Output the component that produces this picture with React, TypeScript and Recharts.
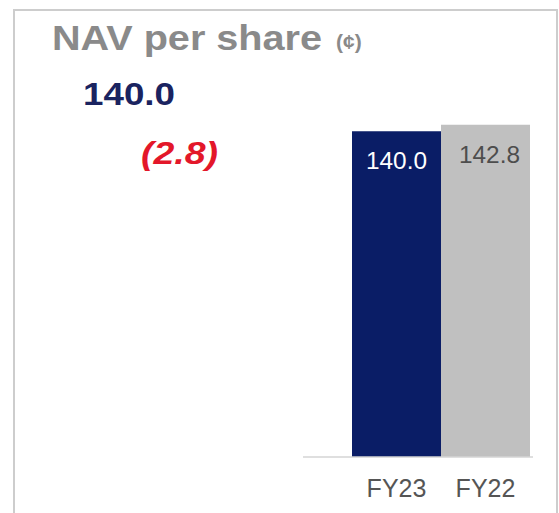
import React from 'react';
import { BarChart, Bar, XAxis, YAxis, Cell, LabelList } from 'recharts';

const years = ['FY23', 'FY22'];
const navValues = [140.0, 142.8];
const barColors = ['#0a1d66', '#c0c0c0'];
const labelColors = ['#ffffff', '#4d4d4d'];

const headline = '140.0';
const change = '(2.8)';

const data = years.map((year, i) => ({ year, nav: navValues[i] }));

const FONT = '"Liberation Sans", Arial, sans-serif';

const BarValue = (props: any) => {
  const { x, y, width, value, index } = props;
  return (
    <text
      x={x + width / 2 + (index === 1 ? 4 : 0)}
      y={y + 38}
      textAnchor="middle"
      fontSize={24}
      fontFamily={FONT}
      fill={labelColors[index]}
      textLength={61}
      lengthAdjust="spacingAndGlyphs"
    >
      {Number(value).toFixed(1)}
    </text>
  );
};

export default function App() {
  return (
    <div style={{ position: 'absolute', left: 0, top: 0, width: 559, height: 513, background: '#fff', overflow: 'hidden' }}>
      {/* frame */}
      <div
        style={{
          position: 'absolute',
          left: 13,
          top: 9,
          width: 541,
          height: 520,
          border: '2px solid #cdcdcd',
          borderBottom: 'none',
        }}
      />
      <div style={{ position: 'absolute', left: 0, top: 0 }}>
        <BarChart
          width={559}
          height={513}
          data={data}
          margin={{ top: 108, right: 26, bottom: 6, left: 303 }}
          barCategoryGap={0}
        >
          <YAxis hide domain={[0, 150]} />
          <XAxis
            dataKey="year"
            height={50}
            padding={{ left: 49, right: 3 }}
            axisLine={{ stroke: '#d4d4d4', strokeWidth: 1.5 }}
            tickLine={false}
            tickMargin={16}
            tick={{ fontSize: 25, fill: '#555', fontFamily: FONT }}
          />
          <Bar dataKey="nav" isAnimationActive={false}>
            {data.map((d, i) => (
              <Cell key={d.year} fill={barColors[i]} />
            ))}
            <LabelList dataKey="nav" content={<BarValue />} />
          </Bar>
        </BarChart>
      </div>
      <svg width={559} height={513} style={{ position: 'absolute', left: 0, top: 0, pointerEvents: 'none' }}>
        <text x={52} y={50} fontSize={35} fontWeight="bold" fontFamily={FONT} fill="#8a8a8a" textLength={270} lengthAdjust="spacingAndGlyphs">
          NAV per share
        </text>
        <text x={336} y={49} fontSize={21} fontWeight="bold" fontFamily={FONT} fill="#8a8a8a">
          (¢)
        </text>
        <text x={83} y={105} fontSize={32} fontWeight="bold" fontFamily={FONT} fill="#1a2360" textLength={92} lengthAdjust="spacingAndGlyphs">
          {headline}
        </text>
        <text x={141} y={164} fontSize={31} fontWeight="bold" fontStyle="italic" fontFamily={FONT} fill="#e3172a" textLength={77} lengthAdjust="spacingAndGlyphs">
          {change}
        </text>
      </svg>
    </div>
  );
}
